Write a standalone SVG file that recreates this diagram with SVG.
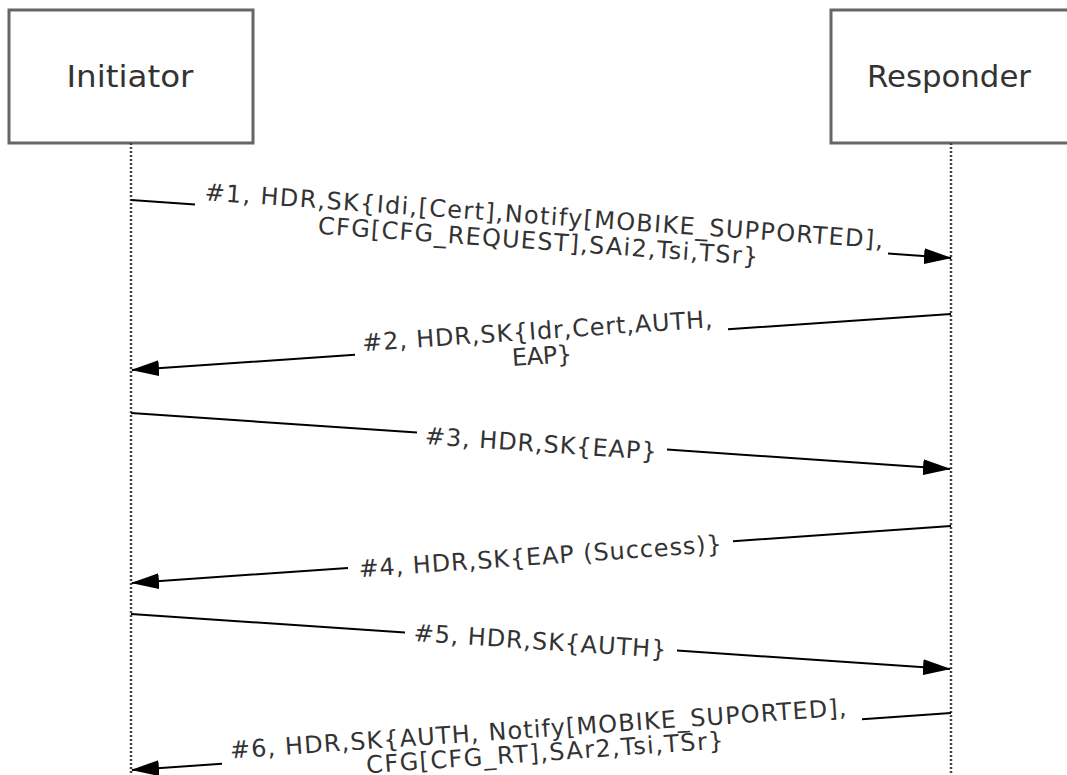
<svg xmlns="http://www.w3.org/2000/svg" width="1067" height="775" viewBox="0 0 1067 775">
<style>
.box{fill:#fff;stroke:#666;stroke-width:3}
.name{font-family:"DejaVu Sans",Verdana,sans-serif;font-size:30px;fill:#333;text-anchor:middle}
.life{stroke:#444;stroke-width:2.5;stroke-dasharray:2 2;fill:none}
.msg{stroke:#000;stroke-width:2;fill:none;marker-end:url(#ah)}
.lbl{font-family:"DejaVu Sans",Verdana,sans-serif;font-size:24px;fill:#333;text-anchor:middle}
</style>
<defs>
<marker id="ah" markerUnits="userSpaceOnUse" markerWidth="28" markerHeight="16" refX="27" refY="8" orient="auto">
<path d="M0,0 L28,8 L0,16 Z" fill="#000"/>
</marker>
</defs>
<rect width="1067" height="775" fill="#fff"/>
<g id="initiator">
<rect class="box" x="9" y="10" width="244" height="133"/>
<text class="name" x="130" y="87" textLength="127" lengthAdjust="spacingAndGlyphs">Initiator</text>
<line class="life" x1="131" y1="143" x2="131" y2="775"/>
</g>
<g id="responder">
<rect class="box" x="831" y="10" width="244" height="133"/>
<text class="name" x="949" y="87" textLength="164" lengthAdjust="spacingAndGlyphs">Responder</text>
<line class="life" x1="951" y1="143" x2="951" y2="775"/>
</g>
<g id="connectors">
<path class="msg" d="M131,200 L195,204.5 M888,253.6 L951,258"/>
<path class="msg" d="M951,314 L728,329.2 M355,354.7 L132,370"/>
<path class="msg" d="M131,413 L417,432.5 M667,449.6 L950,469"/>
<path class="msg" d="M951,526 L733,541.2 M348,567.9 L132,583"/>
<path class="msg" d="M131,614 L405,632.4 M677,650.6 L950,669"/>
<path class="msg" d="M951,713 L862,719.2 M222,763.7 L132,770"/>
</g>
<g id="labels">
<g transform="translate(541,229) rotate(4.05)">
<text class="lbl" x="2" y="-5" textLength="680" lengthAdjust="spacing">#1, HDR,SK{Idi,[Cert],Notify[MOBIKE_SUPPORTED],</text>
<text class="lbl" x="-2" y="20.5" textLength="441" lengthAdjust="spacing">CFG[CFG_REQUEST],SAi2,Tsi,TSr}</text>
</g>
<g transform="translate(541,342) rotate(-3.9)">
<text class="lbl" x="-3" y="-3" textLength="351" lengthAdjust="spacing">#2, HDR,SK{Idr,Cert,AUTH,</text>
<text class="lbl" x="0" y="22" textLength="60" lengthAdjust="spacing">EAP}</text>
</g>
<g transform="translate(541,441) rotate(3.9)">
<text class="lbl" x="0" y="11" textLength="232" lengthAdjust="spacing">#3, HDR,SK{EAP}</text>
</g>
<g transform="translate(541,554.5) rotate(-3.98)">
<text class="lbl" x="-1" y="10" textLength="364" lengthAdjust="spacing">#4, HDR,SK{EAP (Success)}</text>
</g>
<g transform="translate(541,641.5) rotate(3.84)">
<text class="lbl" x="-1" y="8" textLength="253" lengthAdjust="spacing">#5, HDR,SK{AUTH}</text>
</g>
<g transform="translate(541,741.5) rotate(-3.98)">
<text class="lbl" x="-2" y="-4.5" textLength="618" lengthAdjust="spacing">#6, HDR,SK{AUTH, Notify[MOBIKE_SUPORTED],</text>
<text class="lbl" x="3" y="19.5" textLength="358" lengthAdjust="spacing">CFG[CFG_RT],SAr2,Tsi,TSr}</text>
</g>
</g>
</svg>
